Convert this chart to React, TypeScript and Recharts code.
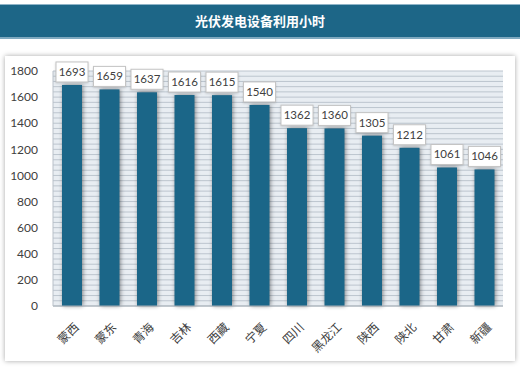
import React from "react";
import { BarChart, Bar, XAxis, YAxis, CartesianGrid, LabelList } from "recharts";

const title = "光伏发电设备利用小时";
const regions = ["蒙西", "蒙东", "青海", "吉林", "西藏", "宁夏", "四川", "黑龙江", "陕西", "陕北", "甘肃", "新疆"];
const hours = [1693, 1659, 1637, 1616, 1615, 1540, 1362, 1360, 1305, 1212, 1061, 1046];
const yTicks = [0, 200, 400, 600, 800, 1000, 1200, 1400, 1600, 1800];

const data = regions.map((name, i) => ({ name, value: hours[i] }));

const BAR = "#1b6688";
const TEXT = "#404040";
const NUM_FONT = "Lato, 'Open Sans', sans-serif";
const CJK_FONT = "'Noto Sans CJK SC', sans-serif";
const Y_MAX = yTicks[yTicks.length - 1];
const LABEL_SIZE = 12;

// minor gridlines: 5 per major tick step
const gridValues: number[] = [];
for (let i = 0; i < yTicks.length - 1; i++) {
  const step = (yTicks[i + 1] - yTicks[i]) / 5;
  for (let k = 0; k < 5; k++) gridValues.push(yTicks[i] + k * step);
}
gridValues.push(Y_MAX);

// category label slanted at 45 degrees, ending just right of the tick
const renderXTick = (props: any) => {
  const { x, y, payload } = props;
  const chars = String(payload.value).split("");
  const n = chars.length;
  const ax = x + 4;
  const ay = y + 10;
  const u = Math.SQRT1_2;
  return (
    <g key={payload.value}>
      {chars.map((c, i) => {
        const d = (n - i - 0.5) * LABEL_SIZE;
        const cx = ax - d * u;
        const cy = ay + d * u;
        return (
          <text
            key={i}
            x={cx}
            y={cy}
            transform={`rotate(-45, ${cx}, ${cy})`}
            textAnchor="middle"
            dominantBaseline="central"
            fontSize={LABEL_SIZE}
            fill={TEXT}
            fontFamily={CJK_FONT}
          >
            {c}
          </text>
        );
      })}
    </g>
  );
};

function BarShape(props: any) {
  const { x, y, width, height } = props;
  if (!height || height <= 0) return null;
  return (
    <rect
      x={x}
      y={y}
      width={width}
      height={height}
      fill={BAR}
      style={{ filter: "drop-shadow(1px 0px 2px rgba(0,0,0,0.45))" }}
    />
  );
}

function ValueLabel(props: any) {
  const { x, y, width, value } = props;
  const w = 32;
  const h = 20;
  const cx = x + width / 2;
  const top = y - 3 - h;
  return (
    <g>
      <rect
        x={cx - w / 2}
        y={top}
        width={w}
        height={h}
        fill="#ffffff"
        stroke="#c4c4c4"
        strokeWidth={1}
        style={{ filter: "drop-shadow(0px 1px 1px rgba(0,0,0,0.15))" }}
      />
      <text x={cx} y={top + h / 2 + 1} textAnchor="middle" dominantBaseline="middle" fontSize={11.5} fill={TEXT} fontFamily={NUM_FONT}>
        {value}
      </text>
    </g>
  );
}

export default function App() {
  return (
    <div style={{ position: "absolute", left: 0, top: 0, width: 520, height: 370, background: "#ffffff", overflow: "hidden" }}>
      <div
        style={{
          position: "absolute",
          left: 0,
          top: 4,
          width: 520,
          height: 35,
          background: "#1d6687",
          borderTop: "1px solid #8fb4c8",
          borderBottom: "2px solid #7fa9bf",
          boxSizing: "border-box",
          color: "#ffffff",
          fontFamily: CJK_FONT,
          fontWeight: 700,
          fontSize: 13,
          textAlign: "center",
          lineHeight: "32px",
        }}
      >
        {title}
      </div>
      <div
        style={{
          position: "absolute",
          left: 5,
          top: 56,
          width: 510,
          height: 305,
          background: "#ffffff",
          boxShadow: "0 0 5px rgba(0,0,0,0.35)",
        }}
      />
      <div style={{ position: "absolute", left: 0, top: 0 }}>
        <BarChart width={520} height={370} data={data} margin={{ top: 71, right: 17, bottom: 0, left: 0 }} barSize={20}>
          <CartesianGrid
            vertical={false}
            fill="#e8edf2"
            stroke="#bcc5ce"
            strokeWidth={1}
            horizontalCoordinatesGenerator={({ offset }: any) =>
              gridValues.map((v) => offset.top + offset.height * (1 - v / Y_MAX))
            }
          />
          <XAxis
            dataKey="name"
            height={64}
            interval={0}
            tickLine={false}
            axisLine={{ stroke: "#a6aeb6" }}
            tick={renderXTick}
          />
          <YAxis
            width={53}
            domain={[0, Y_MAX]}
            ticks={yTicks}
            interval={0}
            tickLine={false}
            tickSize={0}
            tickMargin={15}
            axisLine={{ stroke: "#b8c0c8" }}
            tick={{ fontSize: 12, fill: TEXT, fontFamily: NUM_FONT }}
          />
          <Bar dataKey="value" isAnimationActive={false} shape={<BarShape />}>
            <LabelList dataKey="value" content={<ValueLabel />} />
          </Bar>
        </BarChart>
      </div>
    </div>
  );
}
